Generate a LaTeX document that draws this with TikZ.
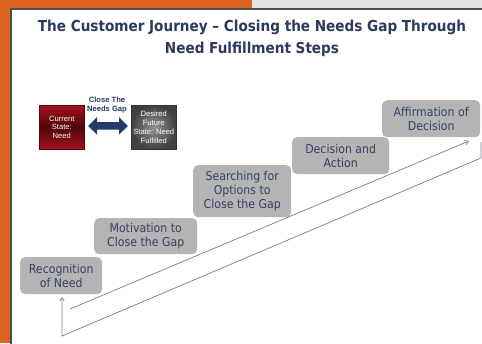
\documentclass[tikz,border=0pt]{standalone}
\usepackage{fontspec}
\setmainfont{DejaVu Sans}
\newfontfamily\stepfont{DejaVu Sans Condensed}
\newfontfamily\arialfont{Liberation Sans}
\usetikzlibrary{arrows.meta}
\definecolor{orangebg}{HTML}{DC6220}
\definecolor{topgray}{HTML}{E4E4E6}
\definecolor{framegray}{HTML}{4E4E4E}
\definecolor{titleblue}{HTML}{2B3A5E}
\definecolor{stepblue}{HTML}{354269}
\definecolor{boxgray}{HTML}{B4B4B4}
\definecolor{linegray}{HTML}{7C7C8C}
\definecolor{arrowblue}{HTML}{243A6A}
\definecolor{rededge}{HTML}{A3101C}
\definecolor{redmid}{HTML}{50060B}
\tikzset{
  stepbox/.style={rectangle, rounded corners=5pt, fill=boxgray, text=stepblue, align=center,
    anchor=north west, inner sep=0pt, font=\stepfont\fontsize{12.2}{14.2}\selectfont},
  statetext/.style={text=white, align=center, font=\arialfont\fontsize{7.6}{8.8}\selectfont},
  conn/.style={draw=linegray, line width=0.7pt},
  tip/.style={-{Straight Barb[length=3.5pt,width=4.5pt]}}
}
\begin{document}
\begin{tikzpicture}[x=1pt,y=-1pt]
\useasboundingbox (0,0) rectangle (482,343);
% background
\fill[orangebg] (0,0) rectangle (482,343);
\fill[topgray] (252,0) rectangle (482,8.5);
\filldraw[fill=white, draw=framegray, line width=1.4pt] (11,9) rectangle (484,345);
% title
\node[text=titleblue, align=center, font=\stepfont\bfseries\fontsize{15.1}{22}\selectfont] (title) at (252,38)
  {The Customer Journey – Closing the Needs Gap Through\\Need Fulfillment Steps};
% state boxes
\node[rectangle, minimum width=45pt, minimum height=44pt, anchor=north west, draw=redmid, line width=0.6pt,
  top color=rededge, bottom color=rededge, middle color=redmid] (current) at (39,105) {};
\node[statetext] (currenttxt) at (current.center) {Current\\State:\\Need};
\node[rectangle, minimum width=45pt, minimum height=44pt, anchor=north west, draw=black!80, line width=0.6pt,
  inner color=black!42, outer color=black!75] (desired) at (131,105) {};
\node[statetext] (desiredtxt) at (desired.center) {Desired\\Future\\State: Need\\Fulfilled};
% double arrow
\fill[arrowblue] (88,126) -- (97,117) -- (97,122) -- (119,122) -- (119,117) -- (128,126)
  -- (119,134.5) -- (119,129.5) -- (97,129.5) -- (97,134.5) -- cycle;
\node[text=arrowblue, align=center, font=\arialfont\bfseries\fontsize{7.6}{9.5}\selectfont] (gaplabel) at (107,105)
  {Close The\\Needs Gap};
% steps
\node[stepbox, minimum width=82pt, minimum height=37pt] (s1) at (20,257) {Recognition\\of Need};
\node[stepbox, minimum width=103pt, minimum height=36pt] (s2) at (94,218) {Motivation to\\Close the Gap};
\node[stepbox, minimum width=98pt, minimum height=52pt] (s3) at (193,165) {Searching for\\Options to\\Close the Gap};
\node[stepbox, minimum width=97pt, minimum height=37pt] (s4) at (292,137) {Decision and\\Action};
\node[stepbox, minimum width=98pt, minimum height=37pt] (s5) at (382,100) {Affirmation of\\Decision};
% connectors
\coordinate (u1) at (70,309);
\coordinate (u2) at (469,141);
\coordinate (l1) at (481,142);
\coordinate (l2) at (481,158);
\coordinate (l3) at (62,336);
\coordinate (l4) at (62,297);
\draw[conn, tip] (u1) -- (u2);
\draw[conn, tip] (l1) -- (l2) -- (l3) -- (l4);
\end{tikzpicture}
\end{document}
